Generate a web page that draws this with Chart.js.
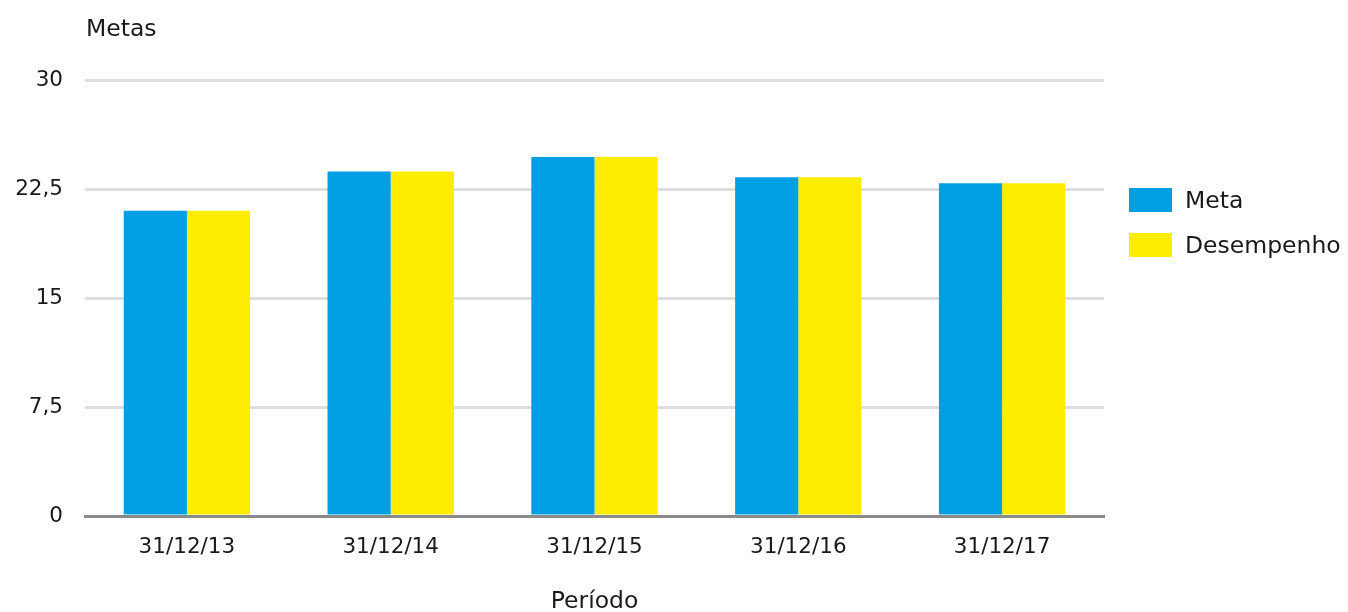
<!DOCTYPE html>
<html>
<head>
<meta charset="utf-8">
<script src="https://cdn.jsdelivr.net/npm/chart.js@4/dist/chart.umd.min.js"></script>
<style>
html,body{margin:0;padding:0;background:#fff;}
#wrap{width:1348px;height:612px;position:relative;}
</style>
</head>
<body>
<div id="wrap"><canvas id="c" width="1348" height="612"></canvas></div>
<script>
const categories = ['31/12/13', '31/12/14', '31/12/15', '31/12/16', '31/12/17'];
const metaValues = [21.0, 23.7, 24.7, 23.3, 22.9];
const desempenhoValues = [21.0, 23.7, 24.7, 23.3, 22.9];
const seriesNames = ['Meta', 'Desempenho'];
const yTickValues = [0, 7.5, 15, 22.5, 30];
const yAxisTitle = 'Metas';
const xAxisTitle = 'Período';

const FONT = '"DejaVu Sans", sans-serif';
const TEXT = '#1a1a1a';
const WORD_SIZE = 23.5;
const TICK_SIZE = 21.5;

const customLegend = {
  id: 'customLegend',
  afterDraw(chart) {
    const ctx = chart.ctx;
    ctx.save();
    ctx.font = WORD_SIZE + 'px ' + FONT;
    ctx.textBaseline = 'middle';
    ctx.textAlign = 'left';
    chart.data.datasets.forEach((ds, i) => {
      const y = 188 + i * 45;
      ctx.fillStyle = ds.backgroundColor;
      ctx.fillRect(1129, y, 43, 24);
      ctx.fillStyle = TEXT;
      ctx.fillText(ds.label, 1185, y + 14);
    });
    ctx.restore();
  }
};

const topTitle = {
  id: 'topTitle',
  afterDraw(chart) {
    const ctx = chart.ctx;
    ctx.save();
    ctx.font = WORD_SIZE + 'px ' + FONT;
    ctx.fillStyle = TEXT;
    ctx.textBaseline = 'middle';
    ctx.textAlign = 'left';
    ctx.fillText(yAxisTitle, chart.chartArea.left + 1, 30);
    ctx.restore();
  }
};

new Chart(document.getElementById('c'), {
  type: 'bar',
  data: {
    labels: categories,
    datasets: [
      { label: seriesNames[0], data: metaValues, backgroundColor: '#009FE3', borderWidth: 0 },
      { label: seriesNames[1], data: desempenhoValues, backgroundColor: '#FFED00', borderWidth: 0 }
    ]
  },
  options: {
    responsive: false,
    animation: false,
    events: [],
    layout: { padding: { top: 80, right: 244, bottom: 0, left: 0 } },
    datasets: { bar: { categoryPercentage: 0.62, barPercentage: 1.0 } },
    plugins: { legend: { display: false }, tooltip: { enabled: false } },
    scales: {
      x: {
        grid: { display: false, drawTicks: false },
        border: { display: true, color: '#8a8a8a', width: 3 },
        ticks: { color: TEXT, font: { family: FONT, size: TICK_SIZE }, padding: 19, maxRotation: 0 },
        title: { display: true, text: xAxisTitle, color: TEXT, font: { family: FONT, size: WORD_SIZE }, padding: { top: 0, bottom: -4 } },
        afterFit(s) { s.height = 96; }
      },
      y: {
        min: 0, max: 30,
        afterBuildTicks(s) { s.ticks = yTickValues.map(v => ({ value: v })); },
        grid: {
          drawTicks: false,
          lineWidth: 3,
          color: ctx => (ctx.tick && ctx.tick.value === 0) ? 'rgba(0,0,0,0)' : '#dedede'
        },
        border: { display: false },
        ticks: {
          color: TEXT, font: { family: FONT, size: TICK_SIZE }, padding: 22,
          callback: v => String(v).replace('.', ',')
        },
        afterFit(s) { s.width = 85; }
      }
    }
  },
  plugins: [customLegend, topTitle]
});
</script>
</body>
</html>
